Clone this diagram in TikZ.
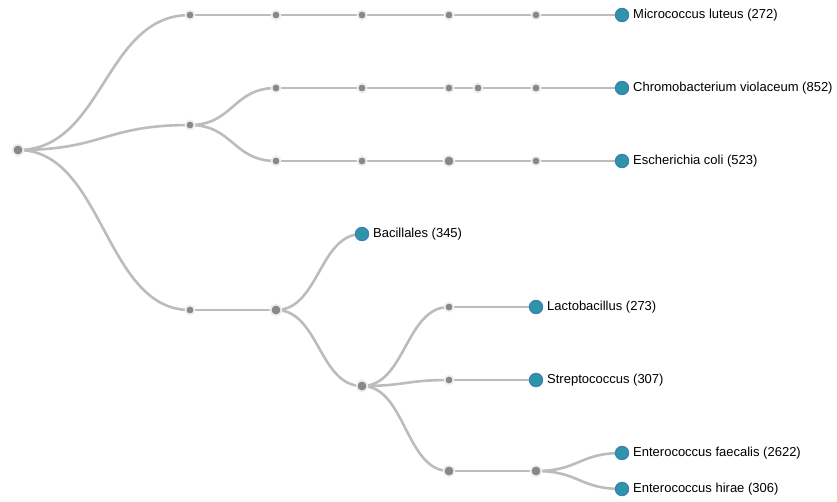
\documentclass[tikz,border=0pt]{standalone}
\usepackage{fontspec}
\setmainfont{Liberation Sans}
\usetikzlibrary{calc,backgrounds}
\definecolor{linkc}{RGB}{188,188,188}
\definecolor{innerc}{RGB}{136,136,136}
\definecolor{haloc}{RGB}{238,238,238}
\definecolor{leaffill}{RGB}{44,150,168}
\definecolor{leafline}{RGB}{62,128,182}
\tikzset{
  inner/.style={circle,fill=innerc,draw=haloc,line width=1.8pt,inner sep=0pt,minimum size=9pt},
  big/.style={inner,minimum size=11pt},
  leaf/.style={circle,fill=leaffill,draw=leafline,line width=1.4pt,inner sep=0pt,minimum size=13pt},
  lab/.style={anchor=west,font=\fontsize{13}{15}\selectfont,text=black,inner sep=0pt},
  link/.style={draw=linkc,line width=2.6pt}
}
\newcommand{\lnk}[2]{\path[link] let \p1=(#1.center), \p2=(#2.center) in (\p1) .. controls ({(\x1+\x2)/2},\y1) and ({(\x1+\x2)/2},\y2) .. (\p2);}
\begin{document}
\begin{tikzpicture}[x=1pt,y=-1pt]
\useasboundingbox (0,0) rectangle (837,501);
% nodes
\node[big] (r) at (18,150) {};
\node[inner] (a1) at (190,15) {};
\node[inner] (a2) at (276,15) {};
\node[inner] (a3) at (362,15) {};
\node[inner] (a4) at (449,15) {};
\node[inner] (a5) at (536,15) {};
\node[leaf] (l1) at (622,15) {};
\node[lab] at (633,15) {Micrococcus luteus (272)};
\node[inner] (b) at (190,125) {};
\node[inner] (c1) at (276,88) {};
\node[inner] (c2) at (362,88) {};
\node[inner] (c3) at (449,88) {};
\node[inner] (c4) at (478,88) {};
\node[inner] (c5) at (536,88) {};
\node[leaf] (l2) at (622,88) {};
\node[lab] at (633,88) {Chromobacterium violaceum (852)};
\node[inner] (e1) at (276,161) {};
\node[inner] (e2) at (362,161) {};
\node[big] (e3) at (449,161) {};
\node[inner] (e4) at (536,161) {};
\node[leaf] (l3) at (622,161) {};
\node[lab] at (633,161) {Escherichia coli (523)};
\node[inner] (d) at (190,310) {};
\node[big] (f) at (276,310) {};
\node[leaf] (l4) at (362,234) {};
\node[lab] at (373,234) {Bacillales (345)};
\node[big] (g) at (362,386) {};
\node[inner] (h1) at (449,307) {};
\node[leaf] (l5) at (536,307) {};
\node[lab] at (547,307) {Lactobacillus (273)};
\node[inner] (h2) at (449,380) {};
\node[leaf] (l6) at (536,380) {};
\node[lab] at (547,380) {Streptococcus (307)};
\node[big] (k1) at (449,471) {};
\node[big] (k2) at (536,471) {};
\node[leaf] (l7) at (622,453) {};
\node[lab] at (633,453) {Enterococcus faecalis (2622)};
\node[leaf] (l8) at (622,489) {};
\node[lab] at (633,489) {Enterococcus hirae (306)};
% links
\begin{scope}[on background layer]
\lnk{r}{a1}\lnk{a1}{a2}\lnk{a2}{a3}\lnk{a3}{a4}\lnk{a4}{a5}\lnk{a5}{l1}
\lnk{r}{b}\lnk{b}{c1}\lnk{c1}{c2}\lnk{c2}{c3}\lnk{c3}{c4}\lnk{c4}{c5}\lnk{c5}{l2}
\lnk{b}{e1}\lnk{e1}{e2}\lnk{e2}{e3}\lnk{e3}{e4}\lnk{e4}{l3}
\lnk{r}{d}\lnk{d}{f}\lnk{f}{l4}\lnk{f}{g}
\lnk{g}{h1}\lnk{h1}{l5}
\lnk{g}{h2}\lnk{h2}{l6}
\lnk{g}{k1}\lnk{k1}{k2}\lnk{k2}{l7}\lnk{k2}{l8}
\end{scope}
\end{tikzpicture}
\end{document}
